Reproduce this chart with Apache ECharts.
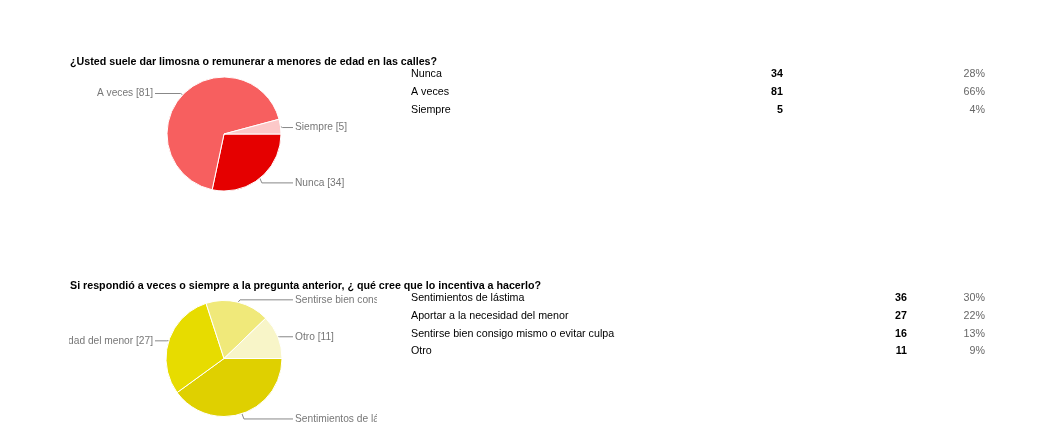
<!DOCTYPE html>
<html>
<head>
<meta charset="utf-8">
<script src="https://cdn.jsdelivr.net/npm/echarts@6/dist/echarts.min.js"></script>
<style>
    html, body { margin: 0; padding: 0; background: #fff; }
    #page { position: absolute; left: 0; top: 0; width: 1056px; height: 443px; }
    .pie-box { position: absolute; left: 69px; width: 308px; overflow: hidden; }
    #pie1 { top: 60px; height: 150px; }
    #pie2 { top: 285px; height: 158px; }
</style>
</head>
<body>
<div id="page"></div>
<div id="pie1" class="pie-box"></div>
<div id="pie2" class="pie-box"></div>
<script type="text/javascript">
// pregunta 1
var q1Title = '¿Usted suele dar limosna o remunerar a menores de edad en las calles?';
var q1Categories = ['Nunca', 'A veces', 'Siempre'];
var q1Values = [34, 81, 5];
var q1Percents = ['28%', '66%', '4%'];
var q1Colors = ['#e50000', '#f75f5f', '#fcc8c8'];

// pregunta 2
var q2Title = 'Si respondió a veces o siempre a la pregunta anterior, ¿ qué cree que lo incentiva a hacerlo?';
var q2Categories = ['Sentimientos de lástima', 'Aportar a la necesidad del menor', 'Sentirse bien consigo mismo o evitar culpa', 'Otro'];
var q2Values = [36, 27, 16, 11];
var q2Percents = ['30%', '22%', '13%', '9%'];
var q2Colors = ['#dfd000', '#e7dc00', '#f0e97a', '#f8f5c8'];

var FONT = '"Liberation Sans", Arial, sans-serif';
var FS = 10.7;

// titulos + tablas
var page = echarts.init(document.getElementById('page'));
function tableBlock(title, titleY, cats, vals, pcts, rowY, valX) {
    var els = [{
        type: 'text', x: 70, y: titleY,
        style: { text: title, fill: '#000', font: 'bold ' + FS + 'px ' + FONT, align: 'left', verticalAlign: 'middle' }
    }];
    cats.forEach(function (c, i) {
        var y = rowY + i * 17.8;
        els.push({ type: 'text', x: 411, y: y,
            style: { text: c, fill: '#000', font: FS + 'px ' + FONT, align: 'left', verticalAlign: 'middle' } });
        els.push({ type: 'text', x: valX, y: y,
            style: { text: String(vals[i]), fill: '#000', font: 'bold ' + FS + 'px ' + FONT, align: 'right', verticalAlign: 'middle' } });
        els.push({ type: 'text', x: 985, y: y,
            style: { text: pcts[i], fill: '#666', font: FS + 'px ' + FONT, align: 'right', verticalAlign: 'middle' } });
    });
    return els;
}
page.setOption({
    animation: false,
    graphic: tableBlock(q1Title, 62, q1Categories, q1Values, q1Percents, 74, 783)
        .concat(tableBlock(q2Title, 286, q2Categories, q2Values, q2Percents, 298, 907))
});

// tortas
var CX = 155;
var LABEL_OFF = 71;
function pieOption(cats, vals, colors, cy, r) {
    return {
        animation: false,
        series: [{
            type: 'pie',
            center: [CX, cy],
            radius: r,
            startAngle: 0,
            clockwise: true,
            avoidLabelOverlap: false,
            data: cats.map(function (c, i) {
                return { name: c, value: vals[i], itemStyle: { color: colors[i] } };
            }),
            itemStyle: { borderColor: '#fff', borderWidth: 1 },
            label: {
                formatter: '{b} [{c}]',
                color: '#777',
                fontFamily: FONT,
                fontSize: 10.2,
                width: 320,
                overflow: 'none'
            },
            labelLine: { length: 4, length2: 10, lineStyle: { color: '#888', width: 1 } },
            labelLayout: function (p) {
                var pts = p.labelLinePoints;
                var p0 = pts[0];
                var side = p0[0] < CX ? -1 : 1;
                var y = pts[2][1] + 1.5;
                var x = CX + side * LABEL_OFF;
                return {
                    x: x, y: y,
                    align: side > 0 ? 'left' : 'right',
                    verticalAlign: 'middle',
                    labelLinePoints: [p0, [p0[0] + side * 2, y], [x - side * 2, y]]
                };
            }
        }]
    };
}
var pie1 = echarts.init(document.getElementById('pie1'));
pie1.setOption(pieOption(q1Categories, q1Values, q1Colors, 74, 57));
var pie2 = echarts.init(document.getElementById('pie2'));
pie2.setOption(pieOption(q2Categories, q2Values, q2Colors, 73.5, 58));
</script>
</body>
</html>
